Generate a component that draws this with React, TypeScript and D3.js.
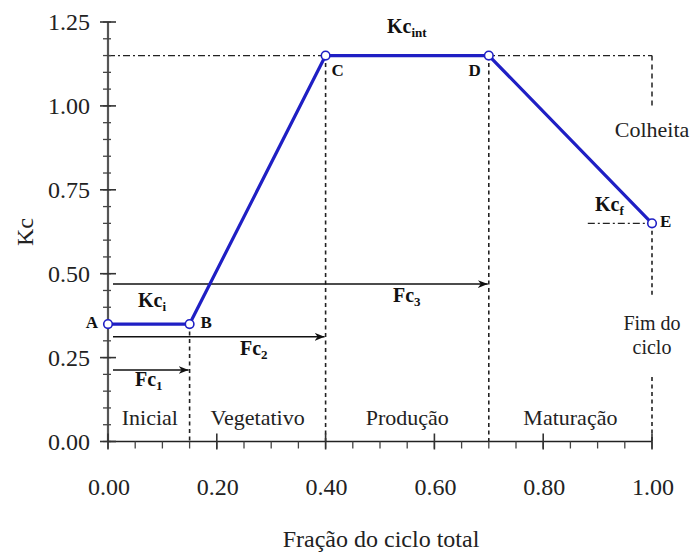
import React from "react";
import * as d3 from "d3";

const pointLabels = ["A", "B", "C", "D", "E"];
const fracValues = [0, 0.15, 0.4, 0.7, 1.0];
const kcValues = [0.35, 0.35, 1.15, 1.15, 0.65];
const xTicks = [0, 0.2, 0.4, 0.6, 0.8, 1.0];
const yTicks = [0, 0.25, 0.5, 0.75, 1.0, 1.25];
const phaseNames = ["Inicial", "Vegetativo", "Produção", "Maturação"];
const phaseBounds = [0, 0.15, 0.4, 0.7, 1.0];
const arrowEnds = [0.15, 0.4, 0.7];
const arrowLevels = [0.213, 0.312, 0.469];

const W = 690, H = 556;
const FONT = "'Liberation Serif', 'Times New Roman', serif";

export default function App() {
  const x = d3.scaleLinear().domain([0, 1]).range([108, 652]);
  const y = d3.scaleLinear().domain([0, 1.25]).range([441.5, 22]);
  const pts = fracValues.map((f, i) => [f, kcValues[i]] as [number, number]);
  const line = d3.line<[number, number]>().x(d => x(d[0])).y(d => y(d[1]));
  const minorX = d3.range(0, 1.0001, 0.05);
  const minorY = d3.range(0, 1.2501, 0.05);
  const blue = "#1f1fc4";
  const kcInt = kcValues[2];
  const kcF = kcValues[4];

  return (
    <svg width={W} height={H} style={{ position: "absolute", left: 0, top: 0, background: "#fff" }} fontFamily={FONT}>
      <defs>
        <marker id="arr" viewBox="0 0 10 10" refX="10" refY="5" markerWidth="10" markerHeight="10" orient="auto" markerUnits="userSpaceOnUse">
          <path d="M0,1 L10,5 L0,9 L3,5 Z" fill="#111" />
        </marker>
      </defs>
      {/* reference lines */}
      <line x1={x(0)} x2={x(1)} y1={y(kcInt)} y2={y(kcInt)} stroke="#222" strokeWidth={1.3} strokeDasharray="7 3 2 3" />
      <line x1={x(1)} x2={x(1)} y1={y(kcInt)} y2={y(1.0)} stroke="#222" strokeWidth={1.5} strokeDasharray="5 4" />
      <line x1={x(0.882)} x2={x(1)} y1={y(kcF)} y2={y(kcF)} stroke="#222" strokeWidth={1.3} strokeDasharray="7 3 2 3" />
      {[0.15, 0.4, 0.7].map((f, i) => (
        <line key={i} x1={x(f)} x2={x(f)} y1={y(kcValues[i + 1])} y2={y(0)} stroke="#222" strokeWidth={1.6} strokeDasharray="4 3.5" />
      ))}
      <line x1={x(1)} x2={x(1)} y1={y(kcF)} y2={y(0.428)} stroke="#222" strokeWidth={1.6} strokeDasharray="4 3.5" />
      <line x1={x(1)} x2={x(1)} y1={y(0.192)} y2={y(0)} stroke="#222" strokeWidth={1.6} strokeDasharray="4 3.5" />
      {/* arrows */}
      {arrowEnds.map((e, i) => (
        <line key={i} x1={x(0) + 5} x2={x(e) - 1} y1={y(arrowLevels[i])} y2={y(arrowLevels[i])} stroke="#111" strokeWidth={1.5} markerEnd="url(#arr)" />
      ))}
      {/* axes */}
      <line x1={x(0)} x2={x(0)} y1={y(0)} y2={y(1.25)} stroke="#555" strokeWidth={2.2} />
      <line x1={x(0)} x2={x(1)} y1={y(0)} y2={y(0)} stroke="#222" strokeWidth={1.6} />
      {minorY.map((v, i) => (
        <line key={"my" + i} x1={x(0) - 5} x2={x(0) + 3} y1={y(v)} y2={y(v)} stroke="#444" strokeWidth={1.3} />
      ))}
      {yTicks.map((v, i) => (
        <g key={"y" + i}>
          <line x1={x(0) - 8} x2={x(0) + 8} y1={y(v)} y2={y(v)} stroke="#333" strokeWidth={1.6} />
          <text x={90} y={y(v) + 8} textAnchor="end" fontSize={24} fill="#222">{d3.format(".2f")(v)}</text>
        </g>
      ))}
      {minorX.map((v, i) => (
        <line key={"mx" + i} x1={x(v)} x2={x(v)} y1={y(0)} y2={y(0) + 7} stroke="#444" strokeWidth={1.3} />
      ))}
      {xTicks.map((v, i) => (
        <g key={"x" + i}>
          <line x1={x(v)} x2={x(v)} y1={y(0) - 8} y2={y(0) + 8} stroke="#333" strokeWidth={1.6} />
          <text x={x(v) + 1} y={495} textAnchor="middle" fontSize={24} fill="#222">{d3.format(".2f")(v)}</text>
        </g>
      ))}
      <text x={381} y={547} textAnchor="middle" fontSize={24} fill="#222">Fração do ciclo total</text>
      <text transform="translate(33,232) rotate(-90)" textAnchor="middle" fontSize={24} fill="#222">Kc</text>
      {/* curve */}
      <path d={line(pts) || ""} fill="none" stroke={blue} strokeWidth={3.2} strokeLinejoin="round" />
      {pts.map((p, i) => (
        <circle key={i} cx={x(p[0])} cy={y(p[1])} r={4.3} fill="#fff" stroke={blue} strokeWidth={1.6} />
      ))}
      {/* point labels */}
      <g fontWeight="bold" fontSize={17} fill="#111">
        <text x={x(0) - 10} y={y(kcValues[0]) + 4} textAnchor="end">{pointLabels[0]}</text>
        <text x={x(0.15) + 11} y={y(kcValues[1]) + 4}>{pointLabels[1]}</text>
        <text x={x(0.4) + 6} y={y(kcValues[2]) + 20}>{pointLabels[2]}</text>
        <text x={x(0.7) - 8} y={y(kcValues[3]) + 20} textAnchor="end">{pointLabels[3]}</text>
        <text x={x(1) + 8} y={y(kcValues[4]) + 4}>{pointLabels[4]}</text>
      </g>
      {/* Kc labels */}
      <g fontWeight="bold" fontSize={20} fill="#111">
        <text x={387} y={33}>Kc<tspan fontSize={13} dy={4}>int</tspan></text>
        <text x={138} y={307}>Kc<tspan fontSize={13} dy={4}>i</tspan></text>
        <text x={595} y={211}>Kc<tspan fontSize={13} dy={4}>f</tspan></text>
        <text x={135} y={386}>Fc<tspan fontSize={13} dy={4}>1</tspan></text>
        <text x={240} y={355}>Fc<tspan fontSize={13} dy={4}>2</tspan></text>
        <text x={393} y={302}>Fc<tspan fontSize={13} dy={4}>3</tspan></text>
      </g>
      {/* phases */}
      {phaseNames.map((n, i) => (
        <text key={n} x={x((phaseBounds[i] + phaseBounds[i + 1]) / 2) + (i === 0 ? 1 : 0)} y={425} textAnchor="middle" fontSize={22} fill="#222">{n}</text>
      ))}
      <text x={x(1)} y={137} textAnchor="middle" fontSize={22} fill="#222">Colheita</text>
      <text x={x(1)} y={330} textAnchor="middle" fontSize={20} fill="#222">Fim do</text>
      <text x={x(1)} y={354} textAnchor="middle" fontSize={20} fill="#222">ciclo</text>
    </svg>
  );
}
